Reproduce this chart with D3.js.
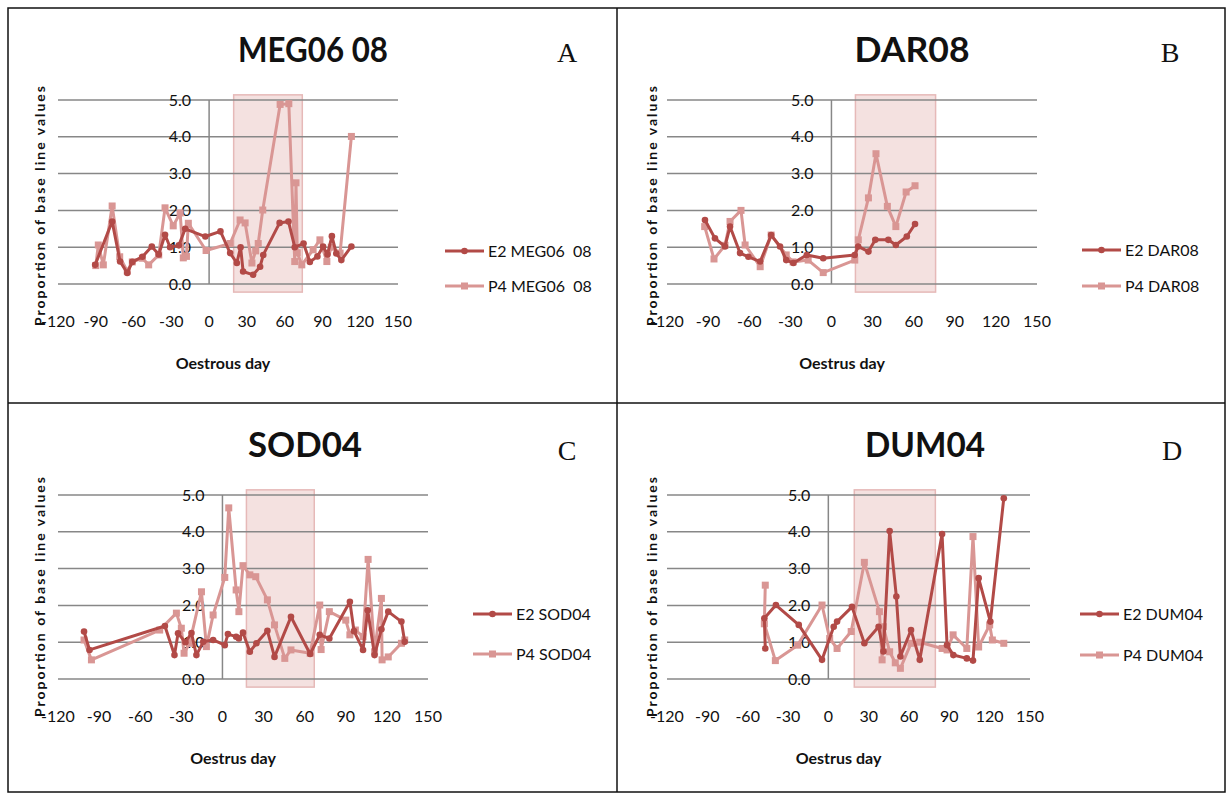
<!DOCTYPE html>
<html>
<head>
<meta charset="utf-8">
<script src="https://cdn.jsdelivr.net/npm/d3@7"></script>
<style>
  body { margin: 0; background: #fff; }
  svg { display: block; font-family: Lato, "Open Sans", sans-serif; }
</style>
</head>
<body>
<svg id="chart" width="1227" height="794"></svg>
<script>
// tick values shared by all four panels
const xTicks = [-120, -90, -60, -30, 0, 30, 60, 90, 120, 150];
const yTicks = [0, 1, 2, 3, 4, 5];

// [oestrous day, proportion of baseline]
const megE2 = [[-90.5,0.52],[-77,1.7],[-70.7,0.61],[-65,0.3],[-61,0.6],[-53,0.74],[-45.5,1.02],[-40,0.8],
  [-35,1.34],[-31,1.0],[-24,1.05],[-19,1.5],[-3,1.29],[9,1.43],[16.7,0.84],[22,0.57],[25,1.0],[27,0.34],
  [35,0.25],[40.5,0.47],[43,0.79],[56,1.66],[63,1.7],[68,1.0],[75,1.1],[80,0.6],[86,0.75],[90.5,1.02],
  [94,0.8],[97.5,1.3],[101,0.83],[105,0.65],[113,1.02]];
const megP4 = [[-90,0.5],[-88,1.06],[-84,0.52],[-77,2.12],[-71,0.74],[-65,0.35],[-61,0.6],[-53,0.7],[-48,0.52],
  [-40,0.79],[-35,2.07],[-28.5,1.58],[-23,1.93],[-20.5,0.71],[-18,0.75],[-16.5,1.65],[-2.4,0.91],[16.7,1.1],
  [24.6,1.74],[28.6,1.66],[34,0.57],[37,0.9],[39,1.1],[42.6,2.01],[56.4,4.88],[63.3,4.9],[68,0.61],[69,2.75],
  [70,0.85],[73.6,0.52],[82.6,0.93],[88,1.2],[93.5,0.61],[97,1.0],[104,0.84],[113,4.01]];

const darE2 = [[-92.3,1.74],[-85,1.24],[-77.7,1.02],[-74,1.56],[-66.7,0.84],[-60.6,0.74],[-52,0.61],[-44,1.33],
  [-37.5,1.02],[-33,0.65],[-27.8,0.57],[-18,0.79],[-6,0.7],[17,0.79],[19.5,1.02],[27,0.88],[32,1.2],
  [41.5,1.2],[47,1.06],[55,1.29],[61,1.63]];
const darP4 = [[-92.5,1.56],[-85.7,0.68],[-77.7,1.05],[-74,1.7],[-66,2.0],[-63,1.06],[-52,0.47],[-44,1.33],
  [-33,0.79],[-28,0.6],[-17,0.65],[-6,0.31],[17,0.65],[19.6,1.2],[27,2.34],[32.5,3.54],[40.8,2.11],
  [47,1.56],[54.5,2.5],[61,2.67]];

const sodE2 = [[-101,1.29],[-97,0.79],[-42,1.44],[-35,0.65],[-32.4,1.24],[-27,1.0],[-22.6,1.25],[-19,0.65],
  [-14,1.01],[-6.8,1.06],[1.7,0.92],[4,1.22],[10,1.15],[12,1.1],[15,1.26],[20,0.74],[24.8,0.97],[32.8,1.31],
  [38,0.6],[50,1.69],[64,0.68],[71,1.2],[78,1.1],[93,2.1],[96,1.3],[102.6,0.79],[106,1.87],[111,0.65],
  [116,1.35],[121,1.83],[130.6,1.56],[133,1.01]];
const sodP4 = [[-101,1.06],[-95.6,0.52],[-45.8,1.33],[-33.6,1.79],[-30,1.38],[-28,0.7],[-24,0.97],[-15.3,2.37],
  [-11.7,0.88],[-6.8,1.74],[1.7,2.76],[4.6,4.65],[10,2.42],[12,1.83],[15,3.08],[20,2.83],[24.3,2.78],
  [32.8,2.15],[38,1.47],[45.5,0.56],[50,0.79],[64,0.7],[71,2.01],[72,0.8],[78,1.83],[90,1.6],[93,1.2],
  [97,1.33],[102.6,1.15],[106.3,3.25],[111,0.74],[116,2.19],[116.5,0.52],[121,0.6],[130.6,0.97],[133,1.06]];

const dumE2 = [[-46.9,0.83],[-47.6,1.65],[-39,2.01],[-22,1.47],[-4.7,0.52],[4,1.42],[6.5,1.56],[17.6,1.96],
  [26.8,0.97],[37.4,1.42],[41,0.75],[45.6,4.02],[50.6,2.24],[53.6,0.61],[61.5,1.33],[68,0.52],[84.6,3.94],
  [88.3,0.92],[93,0.65],[103,0.56],[107.6,0.5],[111.8,2.74],[120.5,1.56],[130.5,4.91]];
const dumP4 = [[-46.9,2.55],[-47.6,1.5],[-39.4,0.5],[-22.8,0.92],[-4.7,2.01],[1,1.1],[6.5,0.83],[17,1.29],
  [26.8,3.17],[38,1.83],[40,0.52],[41,1.42],[45.6,0.74],[49.8,0.44],[53.6,0.29],[61.5,0.97],[68,1.0],
  [84.6,0.83],[88.3,0.79],[92.8,1.2],[103,0.83],[107.6,3.87],[111.8,0.87],[120,1.47],[122,1.06],[130.5,0.97]];

const titles = ["MEG06 08", "DAR08", "SOD04", "DUM04"];
const letters = ["A", "B", "C", "D"];
const xTitles = ["Oestrous day", "Oestrus day", "Oestrus day", "Oestrus day"];
const shadeDays = [[19.5, 74], [17.5, 76], [17.5, 67], [19.3, 79.6]];

const e2Color = "#b24a47";
const p4Color = "#d99694";

const svg = d3.select("#chart");

// outer frame and dividers
svg.append("rect").attr("x", 8).attr("y", 8).attr("width", 1217).attr("height", 784)
  .attr("fill", "none").attr("stroke", "#111").attr("stroke-width", 1.5);
svg.append("line").attr("x1", 617).attr("x2", 617).attr("y1", 8).attr("y2", 792)
  .attr("stroke", "#111").attr("stroke-width", 1.5);
svg.append("line").attr("x1", 8).attr("x2", 1225).attr("y1", 403).attr("y2", 403)
  .attr("stroke", "#111").attr("stroke-width", 1.5);

const panels = [
  {e2: megE2, p4: megP4, x0: 58, x1: 398, y0: 284, y5: 100, title: [313, 50, 150], letter: [567, 52],
   legend: [445, 251, 286], yTitle: [40, 206], xTitleY: 363},
  {e2: darE2, p4: darP4, x0: 667, x1: 1037, y0: 284, y5: 100, title: [912, 50, 115], letter: [1170, 52],
   legend: [1082, 250, 286], yTitle: [652, 206], xTitleY: 363},
  {e2: sodE2, p4: sodP4, x0: 58, x1: 428, y0: 679, y5: 495, title: [305, 445, 114], letter: [567, 450],
   legend: [473, 614, 654], yTitle: [40, 597], xTitleY: 758},
  {e2: dumE2, p4: dumP4, x0: 667, x1: 1030, y0: 679, y5: 495, title: [925, 445, 120], letter: [1172, 450],
   legend: [1080, 614, 655], yTitle: [652, 597], xTitleY: 758}
];

panels.forEach((p, i) => {
  let g = svg.append("g");
  let x = d3.scaleLinear().domain([-120, 150]).range([p.x0, p.x1]);
  let y = d3.scaleLinear().domain([0, 5]).range([p.y0, p.y5]);

  // shaded period
  g.append("rect")
    .attr("x", x(shadeDays[i][0]))
    .attr("width", x(shadeDays[i][1]) - x(shadeDays[i][0]))
    .attr("y", y(5.14))
    .attr("height", y(-0.22) - y(5.14))
    .attr("fill", "#f2dcdb").attr("fill-opacity", 0.85)
    .attr("stroke", "#e6b9b8").attr("stroke-width", 1.5);

  // gridlines
  g.selectAll(".grid").data(yTicks).enter().append("line")
    .attr("x1", p.x0).attr("x2", p.x1)
    .attr("y1", d => y(d)).attr("y2", d => y(d))
    .attr("stroke", "#878787").attr("stroke-width", 1.5);

  // vertical axis at day 0
  g.append("line").attr("x1", x(0)).attr("x2", x(0)).attr("y1", y(5)).attr("y2", y(0))
    .attr("stroke", "#878787").attr("stroke-width", 1.5);

  // y tick labels, next to the axis
  g.selectAll(".ylab").data(yTicks).enter().append("text")
    .attr("x", x(0) - 18).attr("y", d => y(d))
    .attr("dy", "0.35em").attr("text-anchor", "end")
    .attr("font-size", 16).attr("fill", "#111")
    .text(d => d.toFixed(1));

  // x tick labels
  g.selectAll(".xlab").data(xTicks).enter().append("text")
    .attr("x", d => x(d)).attr("y", p.y0 + 37)
    .attr("dy", "0.35em").attr("text-anchor", "middle")
    .attr("font-size", 16).attr("fill", "#111")
    .text(d => d);

  let line = d3.line().x(d => x(d[0])).y(d => y(d[1]));

  // P4 first so E2 sits on top
  g.append("path").datum(p.p4).attr("d", line)
    .attr("fill", "none").attr("stroke", p4Color).attr("stroke-width", 3).attr("stroke-linejoin", "round");
  g.selectAll(".p4pt").data(p.p4).enter().append("rect")
    .attr("x", d => x(d[0]) - 3.5).attr("y", d => y(d[1]) - 3.5)
    .attr("width", 7).attr("height", 7).attr("fill", p4Color);

  g.append("path").datum(p.e2).attr("d", line)
    .attr("fill", "none").attr("stroke", e2Color).attr("stroke-width", 3).attr("stroke-linejoin", "round");
  g.selectAll(".e2pt").data(p.e2).enter().append("circle")
    .attr("cx", d => x(d[0])).attr("cy", d => y(d[1])).attr("r", 3.3).attr("fill", e2Color);

  // title and panel letter
  g.append("text").attr("x", p.title[0]).attr("y", p.title[1]).attr("dy", "0.35em")
    .attr("text-anchor", "middle").attr("font-size", 34).attr("font-weight", "bold").attr("fill", "#111")
    .attr("textLength", p.title[2]).attr("lengthAdjust", "spacingAndGlyphs")
    .text(titles[i]);
  g.append("text").attr("x", p.letter[0]).attr("y", p.letter[1]).attr("dy", "0.35em")
    .attr("text-anchor", "middle").attr("font-size", 28)
    .attr("font-family", "'Liberation Serif', 'DejaVu Serif', serif").attr("fill", "#111")
    .text(letters[i]);

  // axis titles
  g.append("text").attr("x", (p.x0 + p.x1) / 2 + (i === 0 ? -5 : -10)).attr("y", p.xTitleY).attr("dy", "0.35em")
    .attr("text-anchor", "middle").attr("font-size", 16).attr("font-weight", "bold").attr("fill", "#111")
    .text(xTitles[i]);
  g.append("text")
    .attr("transform", "translate(" + p.yTitle[0] + "," + p.yTitle[1] + ") rotate(-90)")
    .attr("dy", "0.35em").attr("text-anchor", "middle")
    .attr("font-size", 14).attr("font-weight", "bold").attr("fill", "#111")
    .attr("textLength", 240).attr("lengthAdjust", "spacing")
    .text("Proportion of base line values");

  // legend
  let lx = p.legend[0];
  let name = titles[i];
  [["E2 " + name, e2Color, p.legend[1], "c"], ["P4 " + name, p4Color, p.legend[2], "s"]].forEach(l => {
    g.append("line").attr("x1", lx).attr("x2", lx + 39).attr("y1", l[2]).attr("y2", l[2])
      .attr("stroke", l[1]).attr("stroke-width", 3);
    if (l[3] === "c") {
      g.append("circle").attr("cx", lx + 19.5).attr("cy", l[2]).attr("r", 3.3).attr("fill", l[1]);
    } else {
      g.append("rect").attr("x", lx + 16).attr("y", l[2] - 3.5).attr("width", 7).attr("height", 7).attr("fill", l[1]);
    }
    g.append("text").attr("x", lx + 43).attr("y", l[2]).attr("dy", "0.35em")
      .attr("font-size", 16).attr("fill", "#111")
      .text(i === 0 ? l[0].replace("06 08", "06\u00a0 08") : l[0]);
  });
});
</script>
</body>
</html>
